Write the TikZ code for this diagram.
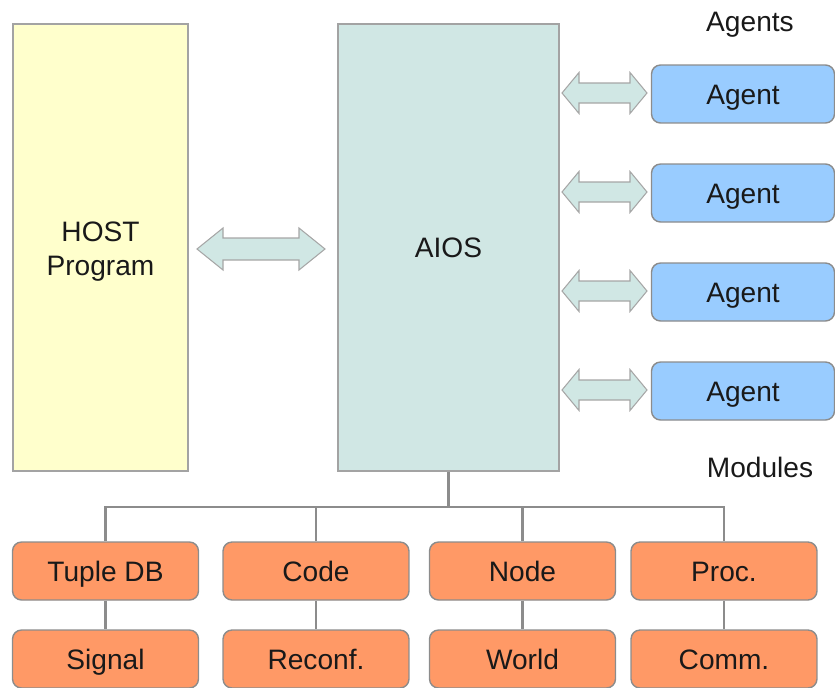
\documentclass[tikz,border=0pt]{standalone}
\usepackage{fontspec}
\setmainfont{Liberation Sans}
\definecolor{hostyellow}{HTML}{FFFFCC}
\definecolor{aiosgreen}{HTML}{D0E7E4}
\definecolor{agentblue}{HTML}{99CCFF}
\definecolor{modorange}{HTML}{FF9966}
\definecolor{edgegray}{HTML}{8C8C8C}
\tikzset{
  lbl/.style={font=\fontsize{16}{19.5}\selectfont, text=black!90},
  bigbox/.style={rectangle, draw=edgegray!80, line width=0.8pt, minimum height=8.94cm, align=center, lbl},
  agentbox/.style={rectangle, rounded corners=0.18cm, draw=edgegray, line width=0.8pt, fill=agentblue, minimum width=3.66cm, minimum height=1.16cm, text height=13pt, text depth=1pt, lbl},
  modbox/.style={rectangle, rounded corners=0.18cm, draw=edgegray, line width=0.8pt, fill=modorange, minimum width=3.72cm, minimum height=1.16cm, text height=13pt, text depth=1pt, lbl},
  tree/.style={draw=edgegray, line width=1.2pt},
  arrowshape/.style={draw=gray!70, line width=0.6pt, fill=aiosgreen}
}
% double arrow: left tip x, right tip x, centre y, head length, half head, half shaft
\newcommand{\biarrow}[6]{%
  \draw[arrowshape] (#1,#3) -- (#1+#4,#3-#5) -- (#1+#4,#3-#6) -- (#2-#4,#3-#6) -- (#2-#4,#3-#5) -- (#2,#3)
    -- (#2-#4,#3+#5) -- (#2-#4,#3+#6) -- (#1+#4,#3+#6) -- (#1+#4,#3+#5) -- cycle;}
\begin{document}
\begin{tikzpicture}[x=0.02cm,y=-0.02cm]
  \useasboundingbox (0,0) rectangle (835,687);
  \node[bigbox, fill=hostyellow, minimum width=3.5cm] (host) at (100.5,247.5) {};
  \node[lbl, align=center] (hostlbl) at (100.5,251.5) {HOST\\Program};
  \node[bigbox, fill=aiosgreen, minimum width=4.42cm] (aios) at (448.5,247.5) {AIOS};
  \biarrow{197}{325}{249}{26}{21}{11}
%%%
  \node[lbl] (agents) at (750,25) {Agents};
  \foreach \y [count=\i] in {94,193,292,391} {
    \node[agentbox] (agent\i) at (743,\y) {Agent};
    \biarrow{562}{647}{\y-1}{17}{20.5}{10}
  }
%%%
  \node[lbl] (modules) at (760,467) {Modules};
  \node[modbox] (tuple) at (105.5,571) {Tuple DB};
  \node[modbox] (code) at (316,571) {Code};
  \node[modbox] (node) at (522.5,571) {Node};
  \node[modbox] (proc) at (724,571) {Proc.};
  \node[modbox] (signal) at (105.5,659) {Signal};
  \node[modbox] (reconf) at (316,659) {Reconf.};
  \node[modbox] (world) at (522.5,659) {World};
  \node[modbox] (comm) at (724,659) {Comm.};
%%%
  \coordinate (bus) at (448.5,507);
  \draw[tree] (aios.south) -- (bus);
  \draw[tree] (tuple.north) |- (bus) -| (proc.north);
  \draw[tree] (code.north) -- (code.north |- bus);
  \draw[tree] (node.north) -- (node.north |- bus);
  \foreach \a/\b in {tuple/signal,code/reconf,node/world,proc/comm}
    \draw[tree] (\a.south) -- (\b.north);
\end{tikzpicture}
\end{document}
